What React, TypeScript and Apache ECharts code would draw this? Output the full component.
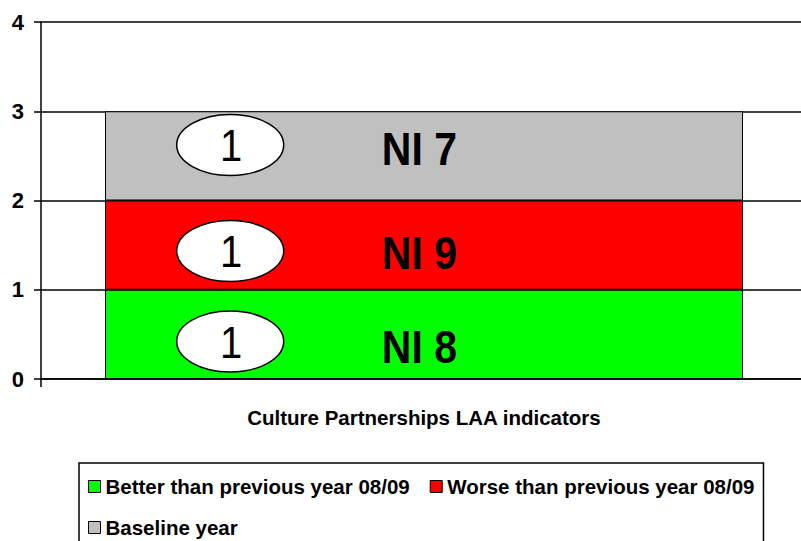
import React, { useEffect, useRef } from "react";
import * as echarts from "echarts";

const categories = ["Culture Partnerships LAA indicators"];
const seriesNames = [
  "Better than previous year 08/09",
  "Worse than previous year 08/09",
  "Baseline year",
];
const betterValues = [1];
const worseValues = [1];
const baselineValues = [1];
const yTicks = [0, 1, 2, 3, 4];

// hand-placed annotations, in data units (x on a 0..1 scale across the plot)
const ovalCounts = [1, 1, 1];
const ovalX = [0.247, 0.247, 0.247];
const ovalY = [0.42, 1.434, 2.622];
const indicatorLabels = ["NI 8", "NI 9", "NI 7"];
const indicatorX = [0.494, 0.494, 0.494];
const indicatorY = [0.353, 1.406, 2.571];

const FONT = '"Liberation Sans", Arial, sans-serif';

export default function App() {
  const ref = useRef<HTMLDivElement>(null);
  useEffect(() => {
    if (!ref.current) return;
    const chart = echarts.init(ref.current, null, { renderer: "svg" });
    const colors = ["#00ff00", "#ff0000", "#c0c0c0"];
    const values = [betterValues, worseValues, baselineValues];
    const barSeries = seriesNames.map((name, i) => ({
      name,
      type: "bar",
      stack: "total",
      data: values[i],
      barWidth: 638,
      itemStyle: { color: colors[i], borderColor: "#000", borderWidth: 1 },
      xAxisIndex: 0,
      yAxisIndex: 0,
      z: 2,
    }));
    chart.setOption({
      animation: false,
      textStyle: { fontFamily: FONT },
      grid: {
        left: 41,
        width: 766,
        top: 22,
        bottom: 162,
        containLabel: false,
        outerBoundsMode: "none",
      },
      xAxis: [
        {
          type: "category",
          data: categories,
          axisLine: { lineStyle: { color: "#000", width: 1.5 } },
          axisTick: { show: true, length: 8, lineStyle: { color: "#000", width: 1.5 } },
          axisLabel: { show: false },
          name: categories[0],
          nameLocation: "middle",
          nameGap: 28,
          nameTextStyle: { fontFamily: FONT, fontWeight: "bold", fontSize: 20.5, color: "#000" },
        },
        { type: "value", min: 0, max: 1, show: false },
      ],
      yAxis: {
        type: "value",
        min: yTicks[0],
        max: yTicks[yTicks.length - 1],
        interval: 1,
        axisLine: { show: true, lineStyle: { color: "#000", width: 1.5 } },
        axisTick: { show: true, length: 7, lineStyle: { color: "#000", width: 1.5 } },
        axisLabel: { fontFamily: FONT, fontWeight: "bold", fontSize: 22, color: "#000", margin: 17 },
        splitLine: { show: true, lineStyle: { color: "#000", width: 1.5 } },
      },
      legend: {
        data: seriesNames,
        left: 79,
        top: 463,
        width: 680,
        padding: [13, 9, 9, 9],
        borderColor: "#000",
        borderWidth: 1.5,
        itemWidth: 12,
        itemHeight: 12,
        itemGap: 20,
        icon: "rect",
        itemStyle: { borderColor: "#000", borderWidth: 1 },
        textStyle: { fontFamily: FONT, fontWeight: "bold", fontSize: 20.5, color: "#000", lineHeight: 20 },
        selectedMode: false,
      },
      series: [
        ...barSeries,
        {
          type: "custom",
          name: "ovals",
          xAxisIndex: 1,
          yAxisIndex: 0,
          z: 5,
          data: ovalCounts.map((c, i) => [ovalX[i], ovalY[i], c]),
          renderItem: (params: any, api: any) => {
            const p = api.coord([api.value(0), api.value(1)]);
            return {
              type: "group",
              children: [
                {
                  type: "ellipse",
                  shape: { cx: p[0], cy: p[1], rx: 53.5, ry: 30.5 },
                  style: { fill: "#fff", stroke: "#000", lineWidth: 1.5 },
                },
                {
                  type: "text",
                  x: p[0] + 1,
                  y: p[1] + 1,
                  scaleY: 1.12,
                  style: {
                    text: String(api.value(2)),
                    fontFamily: FONT,
                    fontSize: 40,
                    fill: "#000",
                    align: "center",
                    verticalAlign: "middle",
                  },
                },
              ],
            };
          },
        },
        {
          type: "custom",
          name: "indicators",
          xAxisIndex: 1,
          yAxisIndex: 0,
          z: 5,
          data: indicatorLabels.map((t, i) => [indicatorX[i], indicatorY[i], t]),
          renderItem: (params: any, api: any) => {
            const p = api.coord([api.value(0), api.value(1)]);
            return {
              type: "text",
              x: p[0],
              y: p[1],
              scaleY: 1.12,
              style: {
                text: indicatorLabels[params.dataIndex],
                fontFamily: FONT,
                fontWeight: "bold",
                fontSize: 41,
                fill: "#000",
                align: "center",
                verticalAlign: "middle",
              },
            };
          },
        },
      ],
    });
    return () => chart.dispose();
  }, []);
  return (
    <div
      ref={ref}
      style={{ position: "absolute", left: 0, top: 0, width: 801, height: 541 }}
    />
  );
}
